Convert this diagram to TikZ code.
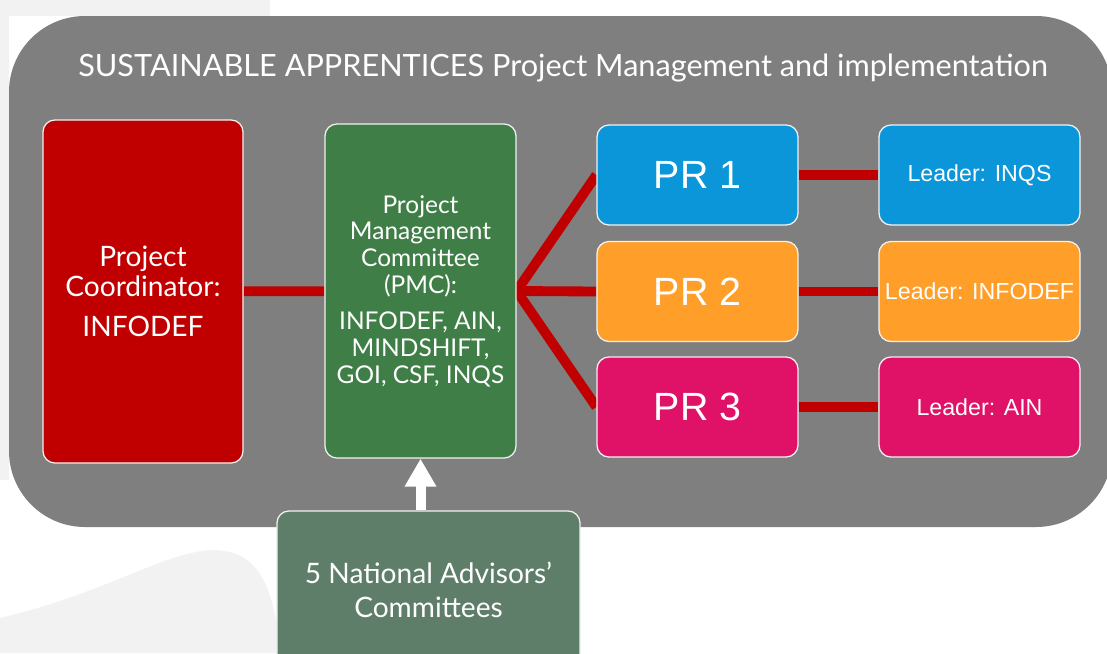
\documentclass[tikz,border=0pt]{standalone}
\usepackage{fontspec}
\setmainfont{Lato}
\newfontfamily\arialfont{Liberation Sans}
\usepackage{tikz}
\usetikzlibrary{positioning,arrows.meta,backgrounds}
\definecolor{frame}{HTML}{7F7F7F}
\definecolor{faint}{HTML}{F2F2F2}
\definecolor{coordred}{HTML}{C00000}
\definecolor{pmcgreen}{HTML}{3F7E46}
\definecolor{prblue}{HTML}{0A96D8}
\definecolor{prorange}{HTML}{FF9F2A}
\definecolor{prpink}{HTML}{DF1268}
\definecolor{nacgreen}{HTML}{5F7E6A}
\tikzstyle{box} = [draw=white!90!gray,line width=0.9pt,rounded corners=0.3cm,text=white,align=center,inner sep=0pt]
\tikzstyle{prbox} = [box,minimum width=5.025cm,minimum height=2.5cm,font=\arialfont\fontsize{28}{30}\selectfont]
\tikzstyle{leader} = [box,minimum width=5.025cm,minimum height=2.5cm,font=\arialfont\fontsize{16.5}{18}\selectfont]
\tikzstyle{link} = [coordred,line width=7pt]

\begin{document}
\begin{tikzpicture}[x=0.025cm,y=-0.025cm]
  \useasboundingbox (0,0) rectangle (1107,653);
  \begin{scope}[on background layer]
    \fill[white] (0,0) rectangle (1107,653);
    % faint background shapes
    \fill[faint] (0,0) rectangle (270,16);
    \fill[faint] (0,0) rectangle (9,480);
    \fill[faint] (0,618) .. controls (120,590) and (180,540) .. (230,552)
      .. controls (260,560) and (275,590) .. (280,653) -- (0,653) -- cycle;
    % main frame
    \fill[frame,rounded corners=1.9cm] (9,16) rectangle (1112,527);
  \end{scope}
  \node (title) at (563,68) {\color{white}\fontsize{21.8}{24}\selectfont SUSTAINABLE APPRENTICES Project Management and implementation};

  \node (coord)[box,fill=coordred,minimum width=5cm,minimum height=8.575cm,font=\fontsize{20}{21}\selectfont] at (143,291.5)
    {Project\\Coordinator:\\[8pt]INFODEF};
  \node (pmc)[box,fill=pmcgreen,minimum width=4.775cm,minimum height=8.35cm,font=\fontsize{17.4}{19}\selectfont] at (420.5,291)
    {Project\\Management\\Committee\\(PMC):\\[7pt]INFODEF, AIN,\\MINDSHIFT,\\GOI, CSF, INQS};

  \node (pr1)[prbox,fill=prblue] at (697.5,175) {PR 1};
  \node (pr2)[prbox,fill=prorange] at (697.5,291.5) {PR 2};
  \node (pr3)[prbox,fill=prpink] at (697.5,407) {PR 3};
  \node (ld1)[leader,fill=prblue] at (979.5,175) {Leader: INQS};
  \node (ld2)[leader,fill=prorange] at (979.5,291.5) {Leader: INFODEF};
  \node (ld3)[leader,fill=prpink] at (979.5,407) {Leader: AIN};

  \node (nac)[box,fill=nacgreen,minimum width=7.575cm,minimum height=3.95cm,font=\fontsize{20}{24}\selectfont] at (428.5,590)
    {5 National Advisors'\\Committees};

  \begin{scope}[on background layer]
    \draw[link] (coord) -- (pmc);
    \draw[link] (pmc.east) -- (pr1.west);
    \draw[link] (pmc.east) -- (pr2.west);
    \draw[link] (pmc.east) -- (pr3.west);
    \draw[link] (pr1) -- (ld1);
    \draw[link] (pr2) -- (ld2);
    \draw[link] (pr3) -- (ld3);
  \end{scope}
  \draw[white,line width=0.25cm,-{Triangle[width=0.75cm,length=0.7cm]}] (pmc.south |- nac.north) -- (pmc.south);
\end{tikzpicture}
\end{document}
